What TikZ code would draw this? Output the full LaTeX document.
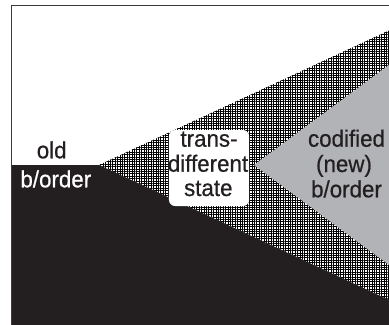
\documentclass[tikz,border=0pt]{standalone}
\usepackage{fontspec}
\setmainfont{Liberation Sans}
\newfontfamily\lblfont[FakeStretch=0.95,FakeBold=0.6]{Liberation Sans}
\usetikzlibrary{patterns.meta}
\definecolor{ink}{HTML}{231F20}
\definecolor{newgray}{HTML}{B2B3B7}
\definecolor{framec}{HTML}{3A3A3A}
\begin{document}
\begin{tikzpicture}[x=1bp,y=-1bp,
  lbl/.style={font=\lblfont\fontsize{23.5bp}{25bp}\selectfont, inner sep=0pt, anchor=base, text=ink},
  hatch/.style={pattern={Lines[angle=#1,distance=2.4bp,line width=0.7bp]}}]
\useasboundingbox (0,0) rectangle (389,325);
\coordinate (V) at (99,165);
\coordinate (HT) at (389,30.5);
\coordinate (HB) at (389,300);
\coordinate (G) at (254,165);
\coordinate (GT) at (389,65);
\coordinate (GB) at (389,265);
% transitional hatched wedge
\fill[white] (V)--(HT)--(HB)--cycle;
\fill[hatch=0] (V)--(HT)--(HB)--cycle;
\fill[hatch=90] (V)--(HT)--(HB)--cycle;
% codified new border
\fill[newgray] (G)--(GT)--(GB)--cycle;
% old border
\fill[ink] (11.5,165)--(V)--(HB)--(389,325)--(11.5,325)--cycle;
% frame
\draw[line width=1bp, framec] (11.5,325)--(11.5,5.3)--(389,5.3);
% box
\node[fill=white, rounded corners=6bp, minimum width=80bp, minimum height=76bp, inner sep=0pt] (box) at (209,168) {};
% labels
\node[lbl] (old) at (51.7,158.3) {old};
\node[lbl, text=white] (oldb) at (55.8,187.3) {b/order};
\node[lbl] (t1) at (209,146.7) {trans-};
\node[lbl] (t2) at (208,171.7) {different};
\node[lbl] (t3) at (208.3,196) {state};
\node[lbl] (c1) at (346.5,146.7) {codified};
\node[lbl] (c2) at (344,172) {(new)};
\node[lbl] (c3) at (346.5,197.3) {b/order};
\end{tikzpicture}
\end{document}
